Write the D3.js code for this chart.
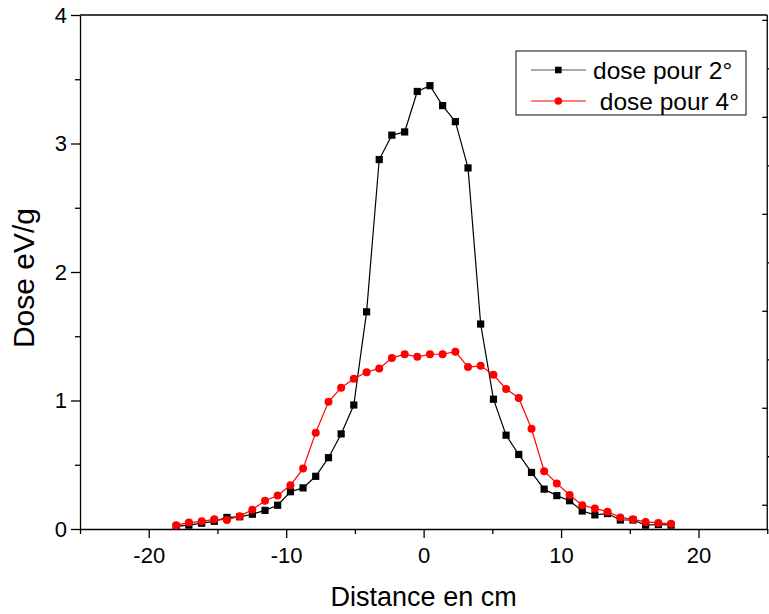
<!DOCTYPE html>
<html>
<head>
<meta charset="utf-8">
<script src="https://cdn.jsdelivr.net/npm/d3@7/dist/d3.min.js"></script>
<style>
  html, body { margin: 0; padding: 0; background: #fff; }
  svg { display: block; font-family: "Liberation Sans", Arial, sans-serif; }
</style>
</head>
<body>
<svg id="chart" width="769" height="614"></svg>
<script>
// Distance from the beam axis (cm)
const distance = [-18.0, -17.08, -16.15, -15.23, -14.31, -13.38, -12.46, -11.54, -10.62, -9.69,
                  -8.77, -7.85, -6.92, -6.0, -5.08, -4.15, -3.23, -2.31, -1.38, -0.46,
                  0.46, 1.38, 2.31, 3.23, 4.15, 5.08, 6.0, 6.92, 7.85, 8.77,
                  9.69, 10.62, 11.54, 12.46, 13.38, 14.31, 15.23, 16.15, 17.08, 18.0];
// Dose profile, 2° beam (eV/g)
const dose2 = [0.02, 0.03, 0.045, 0.06, 0.09, 0.095, 0.115, 0.145, 0.185, 0.29,
               0.32, 0.41, 0.555, 0.74, 0.965, 1.69, 2.875, 3.065, 3.09, 3.405,
               3.45, 3.295, 3.17, 2.81, 1.595, 1.01, 0.73, 0.58, 0.44, 0.31,
               0.26, 0.22, 0.14, 0.11, 0.12, 0.07, 0.07, 0.03, 0.035, 0.03];
// Dose profile, 4° beam (eV/g)
const dose4 = [0.03, 0.05, 0.06, 0.075, 0.07, 0.10, 0.15, 0.22, 0.26, 0.34,
               0.47, 0.75, 0.99, 1.10, 1.17, 1.22, 1.25, 1.33, 1.36, 1.34,
               1.36, 1.36, 1.38, 1.26, 1.27, 1.20, 1.09, 1.02, 0.78, 0.45,
               0.355, 0.265, 0.185, 0.16, 0.135, 0.09, 0.075, 0.055, 0.047, 0.04];

const xTicks = [-20, -10, 0, 10, 20];
const xMinorTicks = [-25, -15, -5, 5, 15, 25];
const yTicks = [0, 1, 2, 3, 4];
const yMinorTicks = [0.5, 1.5, 2.5, 3.5];
const rightTicks = [0, 1, 2, 3, 4, 5];
const rightMinorTicks = [0.5, 1.5, 2.5, 3.5, 4.5];
const seriesNames = ["dose pour 2°", " dose pour 4°"];
const seriesColors = ["#000000", "#ff0000"];

const svg = d3.select("#chart");
const plotLeft = 80, plotRight = 767.25, plotTop = 15, plotBottom = 529;

const x = d3.scaleLinear().domain([-25, 25]).range([plotLeft, plotRight]);
const y = d3.scaleLinear().domain([0, 4]).range([plotBottom, plotTop]);
const yRight = d3.scaleLinear().domain([-0.25, 5.05]).range([plotBottom, plotTop]);

// plain hyphen for negative numbers
const fmt = d => String(d);

// frame: top edge
svg.append("line")
  .attr("x1", plotLeft).attr("x2", plotRight).attr("y1", plotTop).attr("y2", plotTop)
  .attr("stroke", "#000").attr("stroke-width", 1.3);

function styleAxis(g) {
  g.selectAll("path, line").attr("stroke", "#000").attr("stroke-width", 1.3);
  g.selectAll("text").attr("fill", "#000").attr("font-size", 22)
    .attr("font-family", "'Liberation Sans', Arial, sans-serif");
}

// bottom axis
const gx = svg.append("g").attr("transform", `translate(0,${plotBottom})`);
gx.call(d3.axisBottom(x).tickValues(xTicks).tickSize(9).tickPadding(9).tickSizeOuter(0)
  .tickFormat(fmt));
gx.append("g").call(d3.axisBottom(x).tickValues(xMinorTicks).tickSize(5).tickFormat("").tickSizeOuter(0))
  .select(".domain").remove();
styleAxis(gx);

// left axis
const gy = svg.append("g").attr("transform", `translate(${plotLeft},0)`);
gy.call(d3.axisLeft(y).tickValues(yTicks).tickSize(9).tickPadding(4).tickSizeOuter(0)
  .tickFormat(fmt));
gy.append("g").call(d3.axisLeft(y).tickValues(yMinorTicks).tickSize(5).tickFormat("").tickSizeOuter(0))
  .select(".domain").remove();
styleAxis(gy);

// right axis (second layer scale)
const gr = svg.append("g").attr("transform", `translate(${plotRight},0)`);
gr.call(d3.axisRight(yRight).tickValues(rightTicks).tickSize(-5).tickFormat("").tickSizeOuter(0));
gr.append("g").call(d3.axisRight(yRight).tickValues(rightMinorTicks).tickSize(5).tickFormat("").tickSizeOuter(0))
  .select(".domain").remove();
gr.select(".domain").attr("d", `M0,${plotBottom}V${plotTop}`);
styleAxis(gr);

// axis titles
svg.append("text")
  .attr("x", x(0)).attr("y", 606)
  .attr("text-anchor", "middle").attr("font-size", 27)
  .text("Distance en cm");
svg.append("text")
  .attr("transform", `translate(34,278) rotate(-90)`)
  .attr("text-anchor", "middle").attr("font-size", 30)
  .text("Dose eV/g");

// series
const series = [dose2, dose4];
const line = d3.line().x(d => x(d[0])).y(d => y(d[1]));

series.forEach((vals, si) => {
  const pts = distance.map((d, i) => [d, vals[i]]);
  svg.append("path")
    .datum(pts)
    .attr("fill", "none")
    .attr("stroke", seriesColors[si])
    .attr("stroke-width", 1.2)
    .attr("d", line);
  if (si === 0) {
    svg.append("g").selectAll("rect").data(pts).join("rect")
      .attr("x", d => x(d[0]) - 3.6).attr("y", d => y(d[1]) - 3.6)
      .attr("width", 7.2).attr("height", 7.2)
      .attr("fill", seriesColors[si]);
  } else {
    svg.append("g").selectAll("circle").data(pts).join("circle")
      .attr("cx", d => x(d[0])).attr("cy", d => y(d[1]))
      .attr("r", 4)
      .attr("fill", seriesColors[si]);
  }
});

// legend
const lg = svg.append("g").attr("transform", "translate(516,51)");
lg.append("rect")
  .attr("x", 0).attr("y", 0).attr("width", 230).attr("height", 64)
  .attr("fill", "#fff").attr("stroke", "#333").attr("stroke-width", 1.2);
seriesNames.forEach((name, i) => {
  const cy = 19 + i * 31;
  lg.append("line")
    .attr("x1", 15).attr("x2", 70).attr("y1", cy).attr("y2", cy)
    .attr("stroke", i === 0 ? "#555" : seriesColors[i]).attr("stroke-width", 1.2);
  if (i === 0) {
    lg.append("rect").attr("x", 42.3 - 3.3).attr("y", cy - 3.3)
      .attr("width", 6.6).attr("height", 6.6).attr("fill", seriesColors[i]);
  } else {
    lg.append("circle").attr("cx", 42.3).attr("cy", cy).attr("r", 3.8).attr("fill", seriesColors[i]);
  }
  lg.append("text")
    .attr("x", 77).attr("y", cy + 9)
    .attr("font-size", 24.5)
    .attr("xml:space", "preserve")
    .style("white-space", "pre")
    .text(name);
});
</script>
</body>
</html>
